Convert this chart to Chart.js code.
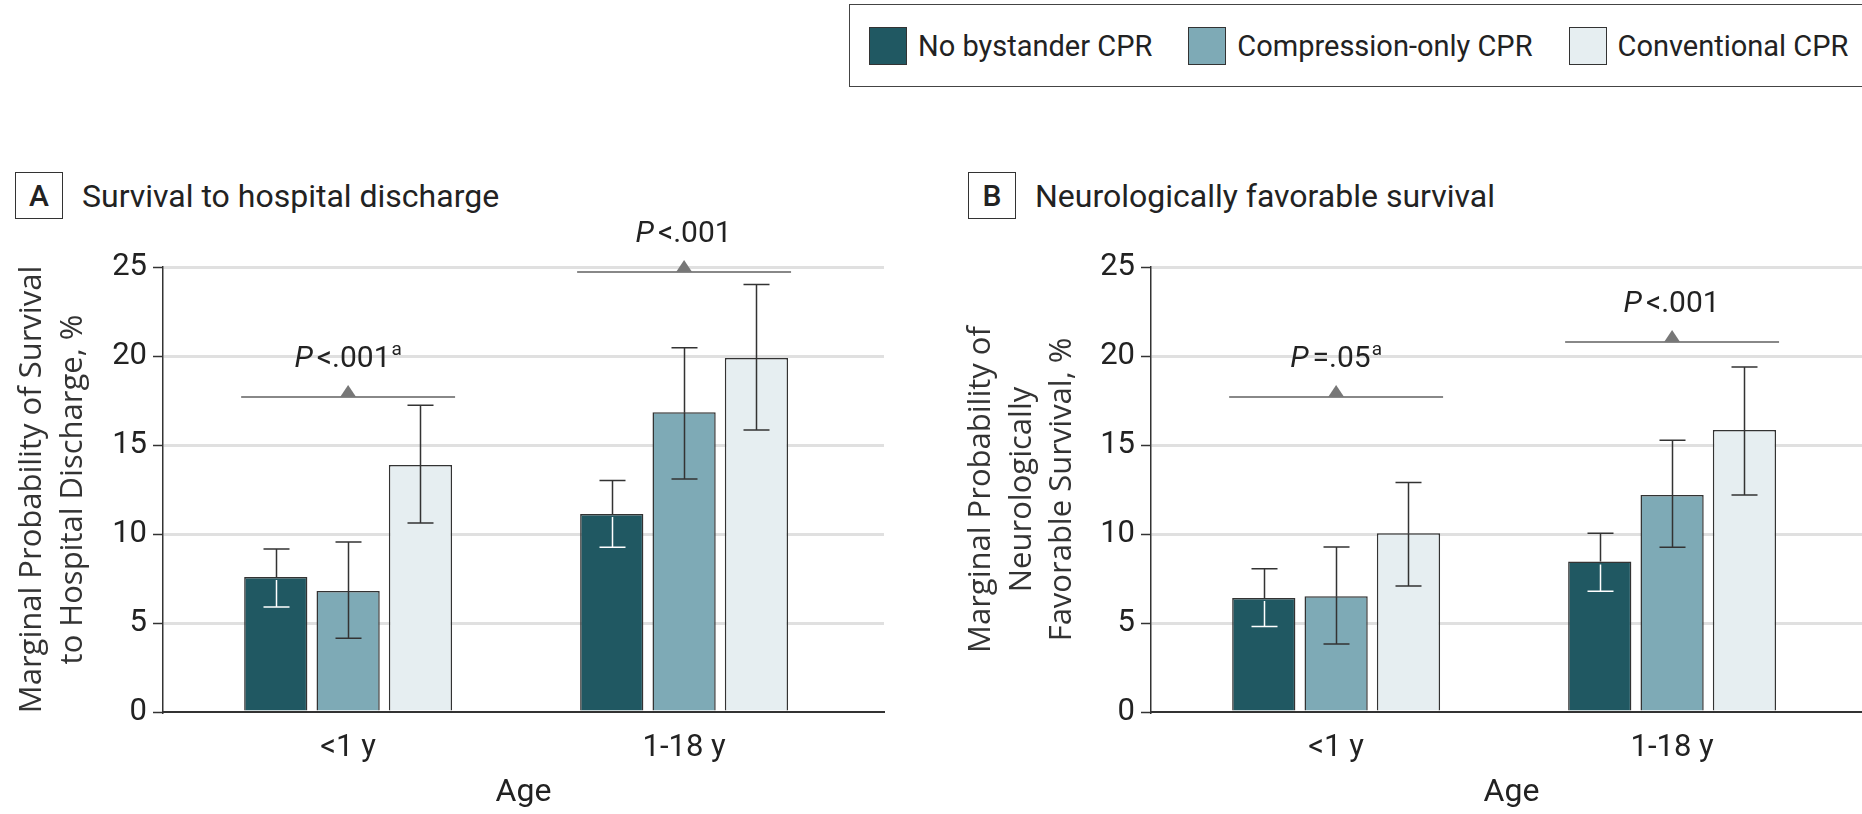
<!DOCTYPE html>
<html>
<head>
<meta charset="utf-8">
<script src="https://cdn.jsdelivr.net/npm/chart.js@4.4.0/dist/chart.umd.min.js"></script>
<style>
  html, body { margin: 0; padding: 0; background: #fff; }
  body { position: relative; width: 1862px; height: 814px; overflow: hidden; font-family: Roboto, sans-serif; color: #222; }
  canvas { position: absolute; top: 0; }
  #legend { position: absolute; left: 849px; top: 4px; width: 1100px; height: 83px; box-sizing: border-box;
    border: 1.5px solid #444; display: flex; align-items: center; padding-left: 19px; }
  .item { display: flex; align-items: center; margin-right: 36px; font-size: 29px; white-space: nowrap; }
  .swatch { width: 38px; height: 38px; box-sizing: border-box; border: 1.5px solid #333; margin-right: 11px; }
  .ptitle { position: absolute; top: 172px; height: 47px; display: flex; align-items: center; font-size: 32px; white-space: nowrap; }
  .letter { width: 48px; height: 47px; box-sizing: border-box; border: 1.5px solid #333; display: flex;
    align-items: center; justify-content: center; font-size: 30px; font-weight: 500; margin-right: 19px; }
</style>
</head>
<body>
<div id="legend"></div>
<div class="ptitle" style="left:15px"><div class="letter">A</div>Survival to hospital discharge</div>
<div class="ptitle" style="left:968px"><div class="letter">B</div>Neurologically favorable survival</div>
<canvas id="chartA" width="930" height="814" style="left:0px"></canvas>
<canvas id="chartB" width="932" height="814" style="left:940px"></canvas>

<script>
'use strict';

var ageGroups = ['<1 y', '1-18 y'];
var seriesNames = ['No bystander CPR', 'Compression-only CPR', 'Conventional CPR'];
var seriesColors = ['#205862', '#7eaab6', '#e6eef1'];

// A: survival to hospital discharge (%), with 95% CI
var survNone = [7.58, 11.12];
var survNoneLow = [5.90, 9.25];
var survNoneHigh = [9.16, 13.0];
var survComp = [6.80, 16.84];
var survCompLow = [4.14, 13.09];
var survCompHigh = [9.55, 20.47];
var survConv = [13.88, 19.89];
var survConvLow = [10.62, 15.84];
var survConvHigh = [17.23, 24.01];
var survPText = ['<.001', '<.001'];
var survPNote = ['a', ''];
var survPLevel = [17.7, 24.7];

// B: neurologically favorable survival (%), with 95% CI
var neuroNone = [6.40, 8.46];
var neuroNoneLow = [4.81, 6.78];
var neuroNoneHigh = [8.05, 10.04];
var neuroComp = [6.50, 12.19];
var neuroCompLow = [3.82, 9.25];
var neuroCompHigh = [9.27, 15.26];
var neuroConv = [10.04, 15.84];
var neuroConvLow = [7.08, 12.19];
var neuroConvHigh = [12.90, 19.38];
var neuroPText = ['=.05', '<.001'];
var neuroPNote = ['a', ''];
var neuroPLevel = [17.7, 20.8];

Chart.defaults.font.family = 'Roboto';
Chart.defaults.color = '#222';

// html legend
var legend = document.getElementById('legend');
for (var i = 0; i < seriesNames.length; i++) {
  var item = document.createElement('div');
  item.className = 'item';
  var sw = document.createElement('div');
  sw.className = 'swatch';
  sw.style.background = seriesColors[i];
  item.appendChild(sw);
  item.appendChild(document.createTextNode(seriesNames[i]));
  legend.appendChild(item);
}

function errorBars(lows, highs) {
  return {
    id: 'errorBars',
    afterDatasetsDraw: function(chart) {
      var ctx = chart.ctx;
      var y = chart.scales.y;
      ctx.save();
      ctx.lineWidth = 1.5;
      chart.data.datasets.forEach(function(ds, i) {
        chart.getDatasetMeta(i).data.forEach(function(bar, j) {
          var x = Math.round(bar.x) + 0.5;
          var yHi = y.getPixelForValue(highs[i][j]);
          var yLo = y.getPixelForValue(lows[i][j]);
          var half = 13;
          ctx.strokeStyle = '#333';
          ctx.beginPath();
          ctx.moveTo(x - half, yHi); ctx.lineTo(x + half, yHi);
          ctx.moveTo(x, yHi); ctx.lineTo(x, bar.y);
          ctx.stroke();
          // the part inside the dark bar is white
          ctx.strokeStyle = i === 0 ? '#fff' : '#333';
          ctx.beginPath();
          ctx.moveTo(x, bar.y + (i === 0 ? 3 : 0)); ctx.lineTo(x, yLo);
          ctx.moveTo(x - half, yLo); ctx.lineTo(x + half, yLo);
          ctx.stroke();
        });
      });
      ctx.restore();
    }
  };
}

function pValues(levels, texts, notes) {
  return {
    id: 'pValues',
    afterDraw: function(chart) {
      var ctx = chart.ctx;
      var y = chart.scales.y;
      var first = chart.getDatasetMeta(0).data;
      var last = chart.getDatasetMeta(chart.data.datasets.length - 1).data;
      ctx.save();
      levels.forEach(function(lv, j) {
        var left = first[j].x - first[j].width / 2 - 3;
        var right = last[j].x + last[j].width / 2 + 3;
        var cx = (left + right) / 2;
        var ly = Math.round(y.getPixelForValue(lv));
        ctx.strokeStyle = '#888';
        ctx.lineWidth = 2;
        ctx.beginPath();
        ctx.moveTo(left, ly); ctx.lineTo(right, ly);
        ctx.stroke();
        ctx.fillStyle = '#777';
        ctx.beginPath();
        ctx.moveTo(cx - 8, ly); ctx.lineTo(cx + 8, ly); ctx.lineTo(cx, ly - 12);
        ctx.closePath();
        ctx.fill();

        var parts = [
          { t: 'P', f: 'italic 30px Roboto', dy: 0, gap: 4 },
          { t: texts[j], f: '30px Roboto', dy: 0, gap: 1 },
          { t: notes[j], f: '19px Roboto', dy: -9, gap: 0 }
        ];
        var total = 0;
        parts.forEach(function(p) {
          ctx.font = p.f;
          p.w = ctx.measureText(p.t).width;
          total += p.w + p.gap;
        });
        var tx = cx - total / 2;
        var ty = ly - 37.5;
        ctx.fillStyle = '#222';
        ctx.textBaseline = 'middle';
        ctx.textAlign = 'left';
        parts.forEach(function(p) {
          ctx.font = p.f;
          ctx.fillText(p.t, tx, ty + p.dy);
          tx += p.w + p.gap;
        });
      });
      ctx.restore();
    }
  };
}

function makeChart(id, values, lows, highs, pLevels, pTexts, pNotes, yTitle, titlePad, yWidth, padRight) {
  var ctx = document.getElementById(id).getContext('2d');
  var datasets = [];
  for (var i = 0; i < seriesNames.length; i++) {
    datasets.push({
      label: seriesNames[i],
      data: ageGroups.map(function(g, j) { return { x: j, y: values[i][j] }; }),
      backgroundColor: seriesColors[i],
      borderColor: '#333',
      borderWidth: 1.5,
      categoryPercentage: 0.646,
      barPercentage: 0.874
    });
  }

  return new Chart(ctx, {
    type: 'bar',
    data: { datasets: datasets },
    options: {
      responsive: false,
      animation: false,
      events: [],
      layout: { padding: { top: 267, right: padRight, bottom: 0, left: 0 } },
      plugins: { legend: { display: false }, tooltip: { enabled: false } },
      scales: {
        x: {
          type: 'linear',
          offset: false,
          bounds: 'data',
          grace: 0,
          min: -0.551,
          max: 1.595,
          afterBuildTicks: function(s) {
            s.ticks = ageGroups.map(function(g, j) { return { value: j }; });
          },
          afterFit: function(s) { s.height = 102; },
          ticks: {
            font: { size: 31 },
            padding: 18,
            color: '#222',
            callback: function(v) { return ageGroups[v]; }
          },
          grid: { display: true, offset: false, drawOnChartArea: false, drawTicks: false },
          border: { display: true, color: '#333', width: 2 },
          title: { display: true, text: 'Age', font: { size: 32 }, color: '#222', padding: { top: 0, bottom: 2 } }
        },
        y: {
          min: 0,
          max: 25,
          afterFit: function(s) { s.width = yWidth; },
          ticks: { stepSize: 5, font: { size: 31 }, padding: 6, color: '#222' },
          grid: {
            color: function(c) { return c.tick && c.tick.value === 0 ? 'rgba(0,0,0,0)' : '#e0e0e0'; },
            lineWidth: 3,
            tickColor: '#333',
            tickWidth: 1.5,
            tickLength: 10
          },
          border: { color: '#333', width: 1.5 },
          title: {
            display: true,
            text: yTitle,
            font: { family: 'Open Sans', size: 31, lineHeight: 1.31 },
            color: '#333',
            padding: { top: titlePad, bottom: 0 }
          }
        }
      }
    },
    plugins: [errorBars(lows, highs), pValues(pLevels, pTexts, pNotes)]
  });
}

makeChart('chartA',
  [survNone, survComp, survConv],
  [survNoneLow, survCompLow, survConvLow],
  [survNoneHigh, survCompHigh, survConvHigh],
  survPLevel, survPText, survPNote,
  ['Marginal Probability of Survival', 'to Hospital Discharge, %'], 12, 163, 46);

makeChart('chartB',
  [neuroNone, neuroComp, neuroConv],
  [neuroNoneLow, neuroCompLow, neuroConvLow],
  [neuroNoneHigh, neuroCompHigh, neuroConvHigh],
  neuroPLevel, neuroPText, neuroPNote,
  ['Marginal Probability of', 'Neurologically', 'Favorable Survival, %'], 21, 211, 0);
</script>
</body>
</html>
